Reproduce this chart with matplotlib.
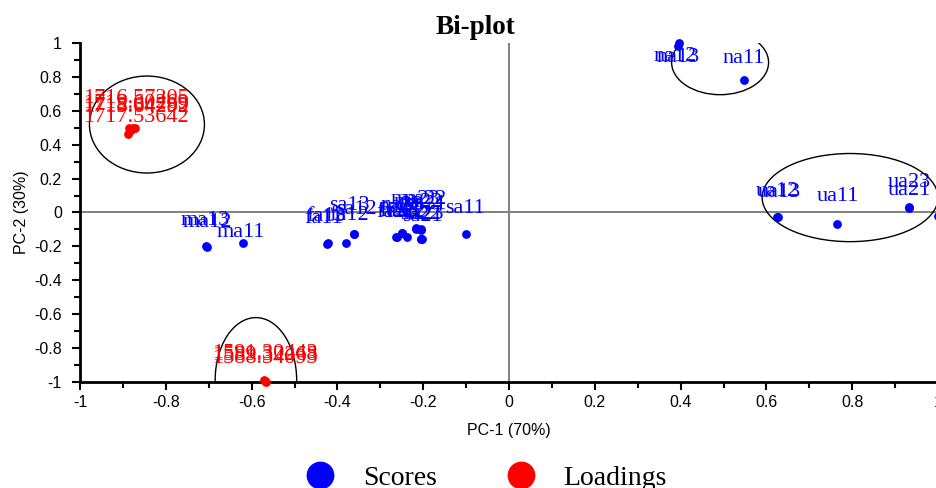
import matplotlib

matplotlib.use("Agg")
import matplotlib.pyplot as plt
from matplotlib.lines import Line2D
from matplotlib.patches import Ellipse
from matplotlib.ticker import MultipleLocator

plt.rcParams["axes.unicode_minus"] = False

# Observation scores on the first two components
score_names = [
    "ma11", "ma12", "ma13",
    "fa11", "fa13", "fa12",
    "sa12", "sa13", "sa11",
    "fa21", "fa23", "na21", "na23", "fa22", "ma22", "ma23", "ma21", "na22",
    "sa21", "sa22", "sa23",
    "na12", "na13", "na11",
    "ua12", "ua13", "ua11", "ua21", "ua23", "ua22",
]
score_x = [
    -0.620, -0.704, -0.706,
    -0.424, -0.422, -0.380,
    -0.361, -0.362, -0.100,
    -0.263, -0.262, -0.249, -0.250, -0.238, -0.217, -0.218, -0.205, -0.206,
    -0.205, -0.206, -0.204,
    0.396, 0.394, 0.548,
    0.625, 0.626, 0.765, 0.932, 0.933, 1.000,
]
score_y = [
    -0.180, -0.206, -0.200,
    -0.183, -0.177, -0.177,
    -0.124, -0.126, -0.124,
    -0.147, -0.145, -0.118, -0.120, -0.147, -0.094, -0.096, -0.100, -0.102,
    -0.159, -0.157, -0.155,
    1.000, 0.982, 0.779,
    -0.024, -0.026, -0.065, 0.030, 0.028, -0.018,
]
# label offsets in pixels (dx, dy up)
score_dx = [
    -2, 0, -1,
    -3, -2, 3,
    2, -4, -1,
    0, 2, -2, 0, -2, 2, 0, 1, 4,
    1, 0, 2,
    -4, 0, 0,
    0, 2, 1, 0, 0, 40,
]
score_dy = [
    11, 25, 26,
    25, 26, 27,
    24, 28, 25,
    25, 26, 25, 27, 25, 26, 29, 25, 30,
    23, 25, 24,
    -14, -11, 22,
    25, 24, 27, 17, 25, 25,
]

# Variable loadings
loading_names = [
    "1716.57205", "1719.60269", "1718.64789", "1715.64292", "1717.53642",
    "1591.30443", "1589.32268", "1588.34093",
]
loading_x = [-0.886, -0.876, -0.888, -0.881, -0.872, -0.569, -0.571, -0.567]
loading_y = [0.496, 0.501, 0.466, 0.484, 0.496, -0.997, -0.991, -1.000]
loading_dx = [7, 3, 8, 5, 1, 0, 1, -1]
loading_dy = [30, 24, 27, 23, 11, 28, 25, 24]

# Group ellipses: centre x, centre y, width, height
ell_cx = [-0.844, 0.492, 0.795, -0.590]
ell_cy = [0.519, 0.885, 0.088, -0.990]
ell_w = [0.268, 0.226, 0.410, 0.190]
ell_h = [0.572, 0.380, 0.520, 0.740]

fig = plt.figure(figsize=(9.37, 4.88), dpi=100)
ax = fig.add_axes([0.0854, 0.2172, 0.9157, 0.6947])

ax.axhline(0, color="#808080", lw=1.4, zorder=1)
ax.axvline(0, color="#808080", lw=1.4, zorder=1)

for cx, cy, w, h in zip(ell_cx, ell_cy, ell_w, ell_h):
    ax.add_patch(Ellipse((cx, cy), w, h, facecolor="none", edgecolor="black", lw=1.0, zorder=2))

ax.scatter(score_x, score_y, s=40, color="#0000ff", zorder=3, clip_on=False, linewidths=0)
ax.scatter(loading_x, loading_y, s=40, color="#ff0000", zorder=3, clip_on=False, linewidths=0)

lab_font = dict(family="Liberation Serif", fontsize=16)
for n, x, y, dx, dy in zip(score_names, score_x, score_y, score_dx, score_dy):
    ax.annotate(n, (x, y), xytext=(dx, dy), textcoords="offset pixels",
                ha="center", va="center", color="#0000ff", annotation_clip=False, **lab_font)
for n, x, y, dx, dy in zip(loading_names, loading_x, loading_y, loading_dx, loading_dy):
    ax.annotate(n, (x, y), xytext=(dx, dy), textcoords="offset pixels",
                ha="center", va="center", color="#ff0000", annotation_clip=False, **lab_font)

ax.set_xlim(-1, 1)
ax.set_ylim(-1, 1)
ax.xaxis.set_major_locator(MultipleLocator(0.2))
ax.xaxis.set_minor_locator(MultipleLocator(0.1))
ax.yaxis.set_major_locator(MultipleLocator(0.2))
ax.yaxis.set_minor_locator(MultipleLocator(0.1))
ax.xaxis.set_major_formatter(lambda v, p: f"{v:g}" if abs(v) > 1e-9 else "0")
ax.yaxis.set_major_formatter(lambda v, p: f"{v:g}" if abs(v) > 1e-9 else "0")

for side in ("top", "right"):
    ax.spines[side].set_visible(False)
for side in ("left", "bottom"):
    ax.spines[side].set_linewidth(2)
ax.tick_params(which="major", length=6, width=1.5, direction="out", labelsize=11.5)
ax.tick_params(which="minor", length=4, width=1.5, direction="out")
ax.tick_params(axis="y", which="major", pad=7)
for lab in ax.get_xticklabels() + ax.get_yticklabels():
    lab.set_family("Liberation Sans")

ax.set_xlabel("PC-1 (70%)", family="Liberation Sans", fontsize=11.5, labelpad=9)
ax.set_ylabel("PC-2 (30%)", family="Liberation Sans", fontsize=11.5, labelpad=4)

fig.text(0.507, 1 - 27 / 488, "Bi-plot", family="Liberation Serif", fontweight="bold",
         fontsize=19.5, ha="center", va="center")

handles = [
    Line2D([], [], ls="none", marker="o", ms=19, color="#0000ff", label="Scores"),
    Line2D([], [], ls="none", marker="o", ms=19, color="#ff0000", label="Loadings"),
]
fig.legend(handles=handles, loc="center", bbox_to_anchor=(0.512, 0.02), ncol=2,
           frameon=False, prop=dict(family="Liberation Serif", size=20),
           handletextpad=0.55, columnspacing=2.0)

fig.savefig("out.png", dpi=100)
